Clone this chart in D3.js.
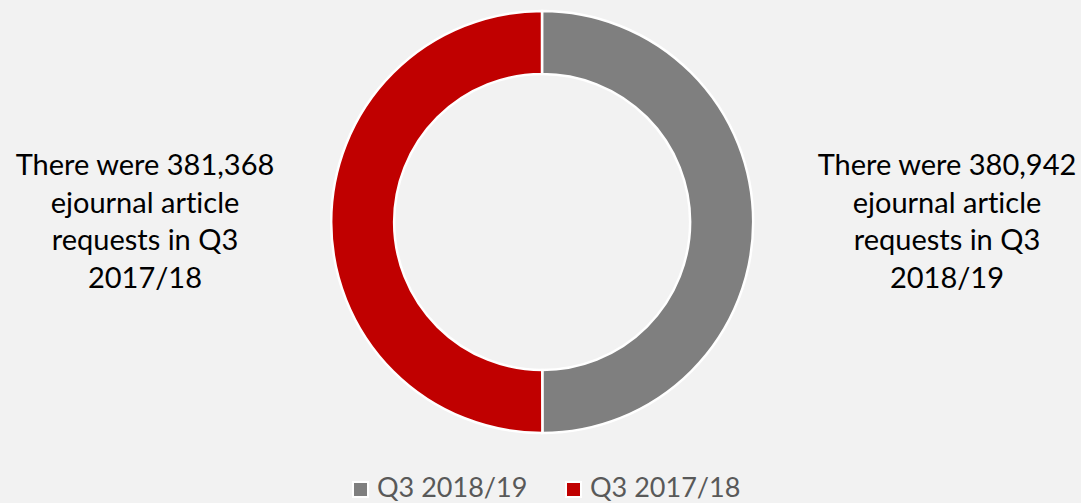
<!DOCTYPE html>
<html>
<head>
<meta charset="utf-8">
<script src="https://cdn.jsdelivr.net/npm/d3@7"></script>
<style>
  html, body { margin: 0; padding: 0; background: #f2f2f2; }
  svg { display: block; }
  text { font-variant-ligatures: none; }
</style>
</head>
<body>
<div id="container"></div>
<script>
// Data
const categories = ['Q3 2018/19', 'Q3 2017/18'];
const values = [380942, 381368];
const colors = ['#7f7f7f', '#c00000'];
const notes = [
  ['There were 380,942', 'ejournal article', 'requests in Q3', '2018/19'],
  ['There were 381,368', 'ejournal article', 'requests in Q3', '2017/18']
];

const width = 1081;
const height = 503;
const font = 'Lato, "Open Sans", sans-serif';

const svg = d3.select('#container').append('svg')
  .attr('width', width)
  .attr('height', height)
  .style('background-color', '#f2f2f2');

// Donut
const cx = 542, cy = 222;
const outerR = 211, innerR = 148;

const pie = d3.pie().sort(null).value(d => d.value);
const arc = d3.arc().innerRadius(innerR).outerRadius(outerR);

const slices = pie(categories.map((c, i) => ({ name: c, value: values[i], color: colors[i] })));

svg.append('g')
  .attr('transform', `translate(${cx},${cy})`)
  .selectAll('path')
  .data(slices)
  .enter().append('path')
  .attr('d', arc)
  .attr('fill', d => d.data.color)
  .attr('stroke', '#ffffff')
  .attr('stroke-width', 2.5);

// Side notes (right one for 2018/19, left one for 2017/18)
const noteX = [947, 145];
const lineH = 37.7;
notes.forEach((lines, i) => {
  const t = svg.append('text')
    .attr('text-anchor', 'middle')
    .attr('font-family', font)
    .attr('font-size', 29)
    .attr('fill', '#000000');
  t.selectAll('tspan')
    .data(lines)
    .enter().append('tspan')
    .attr('x', noteX[i])
    .attr('y', (d, j) => 175 + j * lineH)
    .text(d => d);
});

// Legend
const legendX = [353, 566];
const legend = svg.append('g');
categories.forEach((c, i) => {
  legend.append('rect')
    .attr('x', legendX[i])
    .attr('y', 482)
    .attr('width', 15)
    .attr('height', 15)
    .attr('fill', colors[i])
    .attr('stroke', '#ffffff')
    .attr('stroke-width', 2);
  legend.append('text')
    .attr('x', legendX[i] + 24)
    .attr('y', 497)
    .attr('font-family', font)
    .attr('font-size', 27)
    .attr('fill', '#595959')
    .text(c);
});
</script>
</body>
</html>
